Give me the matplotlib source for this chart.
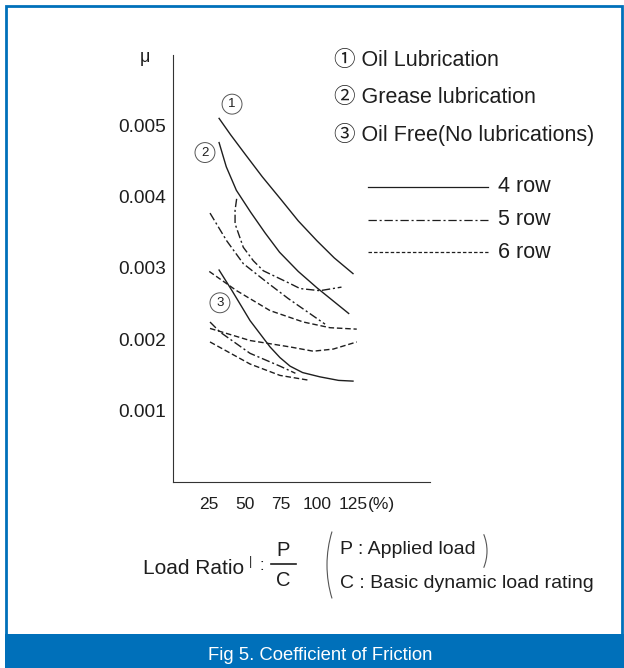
import matplotlib.pyplot as plt
from matplotlib.lines import Line2D
from matplotlib.patches import Rectangle, Arc

plt.rcParams['lines.scale_dashes'] = False

# load ratio P/C (%) and friction coefficient mu
# solid = 4 row, dash-dot = 5 row, dashed = 6 row
oil_4_x = [32, 40, 50, 62, 75, 87, 100, 112, 125]
oil_4_y = [0.00510, 0.00487, 0.00460, 0.00428, 0.00396, 0.00366, 0.00338, 0.00314, 0.00292]
grease_4_x = [32, 37, 44, 54, 64, 74, 87, 100, 122]
grease_4_y = [0.00476, 0.00442, 0.00409, 0.00378, 0.00349, 0.00322, 0.00295, 0.00272, 0.00236]
free_4_x = [32, 41, 53.5, 67.4, 74.3, 81.3, 90, 102, 115, 125]
free_4_y = [0.00297, 0.00268, 0.00226, 0.00189, 0.00174, 0.00162, 0.00153, 0.00147, 0.00142, 0.00141]

oil_5_x = [44.2, 43.1, 43.1, 48.8, 55.8, 62.7, 81.3, 88.2, 102, 117]
oil_5_y = [0.00397, 0.00381, 0.00362, 0.00329, 0.00310, 0.00296, 0.00278, 0.00271, 0.00268, 0.00273]
grease_5_x = [25.7, 37.3, 48.8, 65.1, 80, 105.6]
grease_5_y = [0.00377, 0.00338, 0.00306, 0.00280, 0.00257, 0.00221]
free_5_x = [25.7, 32.6, 53.5, 74.3, 85]
free_5_y = [0.00224, 0.00210, 0.00180, 0.00162, 0.00152]

grease_6_x = [25.2, 44.2, 67.4, 90.5, 109, 127.6]
grease_6_y = [0.00295, 0.00268, 0.00240, 0.00224, 0.00216, 0.00214]
oil_6_x = [25.7, 53.5, 81.3, 97.4, 111.3, 127.6]
oil_6_y = [0.00215, 0.00198, 0.00189, 0.00183, 0.00186, 0.00196]
free_6_x = [25.7, 53.5, 74.3, 95.1]
free_6_y = [0.00196, 0.00165, 0.00149, 0.00142]

x_ticks = [25, 50, 75, 100, 125]
y_ticks = [0.001, 0.002, 0.003, 0.004, 0.005]
y_labels = ['0.001', '0.002', '0.003', '0.004', '0.005']

W, H = 624, 668
def fx(px):
    return px / W
def fy(py):
    return 1 - py / H

ink = '#1e1e1e'
blue = '#0070ba'
solid = '-'
dashdot = (0, (6, 2, 1.5, 2))
dashed = (0, (4, 2))
sans = ['Liberation Sans', 'Noto Sans CJK JP', 'DejaVu Sans']

fig = plt.figure(figsize=(6.24, 6.68), dpi=100)

# frame and caption band
fig.add_artist(Rectangle((fx(6), fy(635)), fx(616), 629 / H, transform=fig.transFigure,
                         fill=False, ec=blue, lw=2))
fig.add_artist(Rectangle((fx(5), 0), fx(619), 34 / H, transform=fig.transFigure,
                         fc=blue, ec='none'))
fig.text(fx(320), fy(655), 'Fig 5. Coefficient of Friction', color='white',
         fontsize=13.3, family=sans, ha='center', va='center')

ax = fig.add_axes([fx(173), fy(481.5), (430 - 173) / W, (481.5 - 55) / H])
ax.set_xlim(0, (430 - 173) / 1.44)
ax.set_ylim(0, (481.5 - 55) / 71200)

curves = [
    (oil_4_x, oil_4_y, solid), (grease_4_x, grease_4_y, solid), (free_4_x, free_4_y, solid),
    (oil_5_x, oil_5_y, dashdot), (grease_5_x, grease_5_y, dashdot), (free_5_x, free_5_y, dashdot),
    (oil_6_x, oil_6_y, dashed), (grease_6_x, grease_6_y, dashed), (free_6_x, free_6_y, dashed),
]
for xs, ys, ls in curves:
    ax.plot(xs, ys, color=ink, lw=1.0, ls=ls)

# circled curve numbers
for txt, xx, yy in [('1', 41, 0.00530), ('2', 22.2, 0.00462), ('3', 32.6, 0.00251)]:
    ax.text(xx, yy, txt, fontsize=9.5, family=sans, color=ink, ha='center', va='center',
            bbox=dict(boxstyle='circle,pad=0.3', fc='none', ec='#555555', lw=0.7))

ax.spines['top'].set_visible(False)
ax.spines['right'].set_visible(False)
ax.spines['left'].set_color('#333333')
ax.spines['bottom'].set_color('#333333')
ax.set_xticks(x_ticks)
ax.set_xticklabels([str(t) for t in x_ticks], family=sans, fontsize=12.5, color=ink)
ax.set_yticks(y_ticks)
ax.set_yticklabels(y_labels, family=sans, fontsize=13.8, color=ink)
ax.tick_params(axis='x', length=0, pad=11)
ax.tick_params(axis='y', length=0, pad=5)

fig.text(fx(368), fy(505), '(%)', family=sans, fontsize=12.5, color=ink, ha='left', va='center')
fig.text(fx(145), fy(58), 'μ', family=sans, fontsize=13, color=ink, ha='center', va='center')

# lubrication notes
notes = ['① Oil Lubrication', '② Grease lubrication', '③ Oil Free(No lubrications)']
for i, t in enumerate(notes):
    fig.text(fx(334), fy(60 + 37.5 * i), t, family=sans, fontsize=15.5, color=ink,
             ha='left', va='center')

# row legend
rows = ['4 row', '5 row', '6 row']
for i, (t, ls) in enumerate(zip(rows, [solid, dashdot, (0, (2.5, 1.5))])):
    yy = fy(187 + 32.5 * i)
    fig.add_artist(Line2D([fx(368), fx(488)], [yy, yy], transform=fig.transFigure,
                          color=ink, lw=0.9, ls=ls))
    fig.text(fx(498), yy, t, family=sans, fontsize=15.5, color=ink, ha='left', va='center')

# load ratio note
fig.text(fx(143), fy(569), 'Load Ratio', family=sans, fontsize=15, color=ink, ha='left', va='center')
fig.text(fx(250), fy(562), '|', family=sans, fontsize=9, color=ink, ha='center', va='center')
fig.text(fx(262), fy(566), ':', family=sans, fontsize=12, color=ink, ha='center', va='center')
fig.text(fx(283), fy(551), 'P', family=sans, fontsize=14.5, color=ink, ha='center', va='center')
fig.text(fx(283), fy(581), 'C', family=sans, fontsize=14.5, color=ink, ha='center', va='center')
fig.add_artist(Line2D([fx(271), fx(296)], [fy(564), fy(564)], transform=fig.transFigure,
                      color=ink, lw=1.2))
# thin brackets around the definitions
fig.add_artist(Arc((fx(441), fy(565)), 228 / W, 228 / H, theta1=164, theta2=196,
                   transform=fig.transFigure, color='#555555', lw=0.8))
fig.add_artist(Arc((fx(443), fy(551)), 88 / W, 88 / H, theta1=-21, theta2=21,
                   transform=fig.transFigure, color='#555555', lw=0.8))
fig.text(fx(340), fy(550), 'P : Applied load', family=sans, fontsize=14, color=ink,
         ha='left', va='center')
fig.text(fx(340), fy(583), 'C : Basic dynamic load rating', family=sans, fontsize=14,
         color=ink, ha='left', va='center')

fig.savefig('out.png', dpi=100)
